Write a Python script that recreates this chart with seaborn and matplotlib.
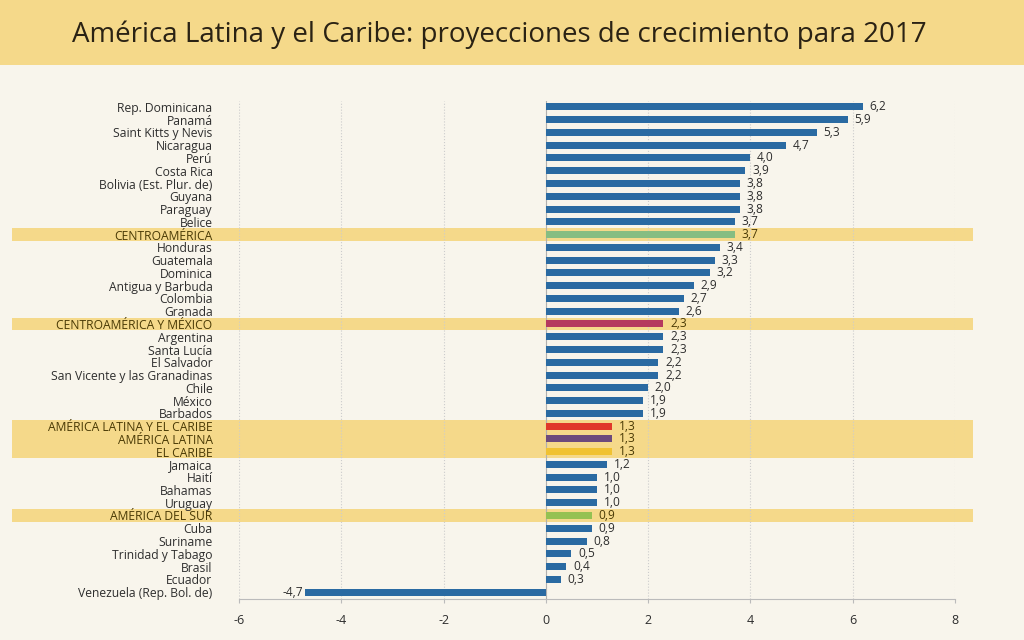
import matplotlib
matplotlib.use('Agg')
import matplotlib.pyplot as plt
import seaborn as sns
import pandas as pd

# datos
paises = ['Rep. Dominicana', 'Panamá', 'Saint Kitts y Nevis', 'Nicaragua', 'Perú',
          'Costa Rica', 'Bolivia (Est. Plur. de)', 'Guyana', 'Paraguay', 'Belice',
          'CENTROAMÉRICA', 'Honduras', 'Guatemala', 'Dominica', 'Antigua y Barbuda',
          'Colombia', 'Granada', 'CENTROAMÉRICA Y MÉXICO', 'Argentina', 'Santa Lucía',
          'El Salvador', 'San Vicente y las Granadinas', 'Chile', 'México', 'Barbados',
          'AMÉRICA LATINA Y EL CARIBE', 'AMÉRICA LATINA', 'EL CARIBE', 'Jamaica', 'Haití',
          'Bahamas', 'Uruguay', 'AMÉRICA DEL SUR', 'Cuba', 'Suriname',
          'Trinidad y Tabago', 'Brasil', 'Ecuador', 'Venezuela (Rep. Bol. de)']
crecimiento = [6.2, 5.9, 5.3, 4.7, 4.0, 3.9, 3.8, 3.8, 3.8, 3.7,
               3.7, 3.4, 3.3, 3.2, 2.9, 2.7, 2.6, 2.3, 2.3, 2.3,
               2.2, 2.2, 2.0, 1.9, 1.9, 1.3, 1.3, 1.3, 1.2, 1.0,
               1.0, 1.0, 0.9, 0.9, 0.8, 0.5, 0.4, 0.3, -4.7]
colores_region = {
    'CENTROAMÉRICA': '#86bd82',
    'CENTROAMÉRICA Y MÉXICO': '#b5395e',
    'AMÉRICA LATINA Y EL CARIBE': '#e0382a',
    'AMÉRICA LATINA': '#6c4a7c',
    'EL CARIBE': '#f0c232',
    'AMÉRICA DEL SUR': '#95c152',
}
azul = '#2a6aa2'
ticks_x = [-6, -4, -2, 0, 2, 4, 6, 8]

df = pd.DataFrame({'pais': paises, 'valor': crecimiento})
paleta = {p: colores_region.get(p, azul) for p in paises}

fondo = '#f8f5ec'
banda = '#f5d98a'
texto = '#2e2e2e'
texto_region = '#4a3a05'

plt.rcParams['font.family'] = ['Open Sans', 'DejaVu Sans']

fig = plt.figure(figsize=(10.24, 6.4), dpi=100, facecolor=fondo)

# franja del título
fig.patches.append(plt.Rectangle((0, 1 - 65 / 640), 1, 65 / 640, transform=fig.transFigure,
                                 facecolor=banda, edgecolor='none', zorder=0))
fig.text(0.4875, 1 - 35 / 640, 'América Latina y el Caribe: proyecciones de crecimiento para 2017',
         ha='center', va='center', fontsize=20, color='#2a2214')

ax = fig.add_axes([239 / 1024, 1 - 598.5 / 640, 716 / 1024, (598.5 - 100.5) / 640])
ax.set_facecolor('none')

sns.barplot(data=df, x='valor', y='pais', hue='pais', palette=paleta, orient='h',
            width=0.55, saturation=1, legend=False, ax=ax, zorder=3)

# bandas de regiones
for i, p in enumerate(paises):
    if p in colores_region:
        ax.axhspan(i - 0.5, i + 0.5, xmin=-0.317, xmax=1.025, color=banda,
                   clip_on=False, zorder=0, lw=0)

# etiquetas de valor
for i, v in enumerate(crecimiento):
    c = texto_region if paises[i] in colores_region else texto
    lbl = f'{v:.1f}'.replace('.', ',')
    if v >= 0:
        ax.text(v + 0.13, i, lbl, ha='left', va='center', fontsize=8.6, color=c, zorder=4)
    else:
        ax.text(v - 0.05, i, lbl, ha='right', va='center', fontsize=8.6, color=c, zorder=4)

ax.set_xlim(-6, 8)
ax.set_ylim(len(paises) - 0.5, -0.5)
ax.set_xticks(ticks_x)
ax.set_xticklabels([str(t) for t in ticks_x])
ax.set_xlabel('')
ax.set_ylabel('')
ax.grid(axis='x', color='#cccccc', linestyle=':', linewidth=0.8, zorder=1)
ax.grid(axis='y', visible=False)
ax.axvline(0, color='#b0b0b0', linewidth=0.8, zorder=2)

for s in ['top', 'right', 'left']:
    ax.spines[s].set_visible(False)
ax.spines['bottom'].set_color('#bbbbbb')
ax.spines['bottom'].set_linewidth(0.8)
ax.tick_params(axis='x', colors='#bbbbbb', labelcolor=texto, labelsize=9, length=3, pad=8)
ax.tick_params(axis='y', length=0, pad=19, labelsize=8.7)
for lab in ax.get_yticklabels():
    lab.set_color(texto_region if lab.get_text() in colores_region else texto)

fig.savefig('out.png', dpi=100, facecolor=fondo)
